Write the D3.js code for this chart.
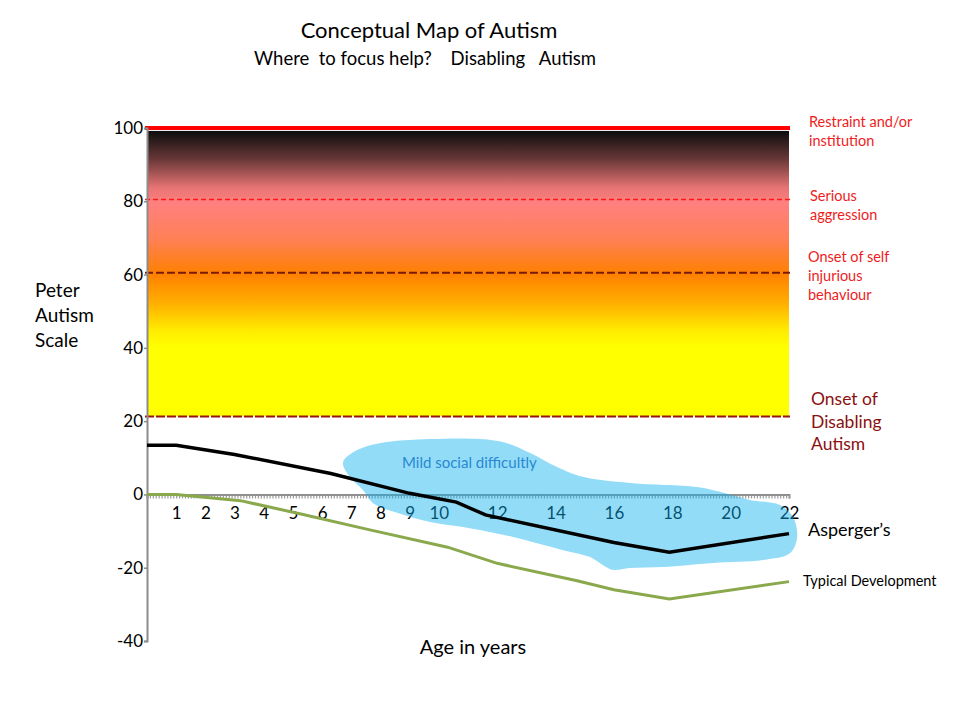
<!DOCTYPE html>
<html>
<head>
<meta charset="utf-8">
<script src="https://cdn.jsdelivr.net/npm/d3@7"></script>
<style>
body { margin: 0; background: #fff; }
text { font-family: Lato, "Noto Sans", sans-serif; }
</style>
</head>
<body>
<div id="chart"></div>
<script>
// asperger's curve (age, score)
var aspergerAges = [0, 1, 3, 6.3, 9, 10.6, 11.6, 16, 17.9, 22];
var aspergerScores = [13.4, 13.4, 10.9, 5.7, 0.3, -2.1, -5.6, -13.1, -15.8, -10.7];

// typical development curve
var typicalAges = [0, 1, 3.2, 5.2, 7.6, 10.3, 12, 14.7, 16, 17.9, 22];
var typicalScores = [0, 0, -1.7, -5.2, -9.6, -14.4, -18.8, -23.5, -26, -28.5, -23.8];

// outline of the "mild social difficulty" cloud
var blobAges = [6.72, 7.2, 7.98, 9.7, 11.41, 12.34, 13.13, 14.05, 14.94, 16.55, 18.85, 19.63, 20.66, 21.69, 22.14, 22.28, 22.04, 21.11, 19.4, 17.68, 16.55, 15.97, 15.63, 15.18, 14.26, 12.54, 10.83, 9.7, 8.57, 7.75, 7.4, 6.96];
var blobScores = [8.8, 12.1, 14.0, 15.1, 15.1, 14.0, 11.3, 7.5, 4.8, 3.1, 2.0, 0.7, -1.5, -2.9, -6.2, -11.6, -16.0, -17.9, -18.7, -19.8, -20.1, -20.6, -19.3, -17.1, -15.2, -11.6, -8.9, -7.5, -5.0, -2.4, 1.2, 4.7];

// tick labels
var yTicks = [-40, -20, 0, 20, 40, 60, 80, 100];
var xTicks = [1, 2, 3, 4, 5, 6, 7, 8, 9, 10, 12, 14, 16, 18, 20, 22];

// severity thresholds and their labels
var levelScores = [100, 80.5, 60.5, 21.3];
var levelLabels = [
    ["Restraint and/or", "institution"],
    ["Serious", "aggression"],
    ["Onset of self", "injurious", "behaviour"],
    ["Onset of", "Disabling", "Autism"]
];

var svgWidth = 960;
var svgHeight = 720;

var svg = d3.select("#chart")
    .append("svg")
    .attr("width", svgWidth)
    .attr("height", svgHeight);

var x = d3.scaleLinear().domain([0, 22]).range([147, 789]);
var y = d3.scaleLinear().domain([-40, 100]).range([641, 128]);

//gradient for the severity band
var defs = svg.append("defs");
var grad = defs.append("linearGradient")
    .attr("id", "band")
    .attr("x1", 0).attr("y1", 0)
    .attr("x2", 0).attr("y2", 1);
var stops = [
    [0, "#0d0d0d"], [0.1, "#6a3838"], [0.2, "#e87474"], [0.25, "#ff8080"],
    [0.38, "#ff8055"], [0.5, "#ff8000"], [0.6, "#ffad00"], [0.7, "#ffec00"],
    [0.76, "#ffff00"], [1, "#ffff00"]
];
grad.selectAll("stop").data(stops).enter().append("stop")
    .attr("offset", d => d[0])
    .attr("stop-color", d => d[1]);

svg.append("rect")
    .attr("x", x(0))
    .attr("y", y(99.2))
    .attr("width", x(22) - x(0))
    .attr("height", y(21.3) - y(99.2))
    .attr("fill", "url(#band)");

//threshold lines
var lineStyles = [
    {stroke: "#ff0000", width: 4, dash: null},
    {stroke: "#ff1a1a", width: 1.5, dash: "5,3"},
    {stroke: "#7a1a0a", width: 2, dash: "8,3"},
    {stroke: "#9a1414", width: 2, dash: "9,2"}
];
svg.selectAll(".level")
    .data(levelScores)
    .enter()
    .append("line")
    .attr("x1", x(0) - 2)
    .attr("x2", x(22) + 1)
    .attr("y1", d => y(d))
    .attr("y2", d => y(d))
    .attr("stroke", (d, i) => lineStyles[i].stroke)
    .attr("stroke-width", (d, i) => lineStyles[i].width)
    .attr("stroke-dasharray", (d, i) => lineStyles[i].dash);

//right-hand labels
var labelColors = ["#ee1c1c", "#ee1c1c", "#ee1c1c", "#8b1010"];
var labelTops = [127, 201, 262, 405];
var labelSizes = [14.5, 14.5, 14.5, 17.5];
var labelGap = [19, 19, 19, 22.5];
var labelX = [809, 810, 808, 811];
levelLabels.forEach(function(lines, i) {
    var t = svg.append("text")
        .attr("x", labelX[i])
        .attr("y", labelTops[i])
        .attr("fill", labelColors[i])
        .style("font-size", labelSizes[i] + "px");
    lines.forEach(function(s, j) {
        t.append("tspan").attr("x", labelX[i]).attr("dy", j === 0 ? 0 : labelGap[i]).text(s);
    });
});

//y axis
var yAxis = svg.append("g")
    .attr("transform", `translate(${x(0)},0)`)
    .call(d3.axisLeft(y).tickValues(yTicks).tickSize(3).tickPadding(1).tickFormat(d => String(d)));
yAxis.select(".domain").attr("stroke", "#8c8c8c").attr("stroke-width", 2);
yAxis.selectAll(".tick line").attr("stroke", "#8c8c8c").attr("stroke-width", 1.5);
yAxis.selectAll("text").style("font-size", "17px").attr("fill", "#000").style("font-family", "Lato, sans-serif");

//x axis with dense minor ticks
var minor = d3.range(0, 220.5, 1).map(d => d / 10);
var xMinor = svg.append("g")
    .attr("transform", `translate(0,${y(0)})`)
    .call(d3.axisBottom(x).tickValues(minor).tickSize(4).tickFormat(""));
xMinor.select(".domain").attr("stroke", "#8c8c8c").attr("stroke-width", 2);
xMinor.selectAll(".tick line").attr("stroke", "#9a9a9a").attr("stroke-width", 1.2);

var xAxis = svg.append("g")
    .attr("transform", `translate(0,${y(0)})`)
    .call(d3.axisBottom(x).tickValues(xTicks).tickSize(0).tickPadding(13));
xAxis.select(".domain").remove();
xAxis.selectAll("text").style("font-size", "17px").attr("fill", "#000").style("font-family", "Lato, sans-serif");

//cloud of mild social difficulty
var blob = d3.line()
    .x(d => x(d[0]))
    .y(d => y(d[1]))
    .curve(d3.curveCatmullRomClosed.alpha(0.5));
svg.append("path")
    .datum(blobAges.map((a, i) => [a, blobScores[i]]))
    .attr("d", blob)
    .attr("fill", "rgb(13,178,240)")
    .attr("fill-opacity", 0.45);

svg.append("text")
    .attr("x", 402)
    .attr("y", 468)
    .attr("fill", "#2a88d2")
    .style("font-size", "15px")
    .text("Mild social difficultly");

//development lines
var line = d3.line()
    .x(d => x(d[0]))
    .y(d => y(d[1]));

svg.append("path")
    .datum(typicalAges.map((a, i) => [a, typicalScores[i]]))
    .attr("d", line)
    .attr("fill", "none")
    .attr("stroke", "#8aa84c")
    .attr("stroke-width", 3);

svg.append("path")
    .datum(aspergerAges.map((a, i) => [a, aspergerScores[i]]))
    .attr("d", line)
    .attr("fill", "none")
    .attr("stroke", "#000")
    .attr("stroke-width", 3.5);

//series labels
svg.append("text")
    .attr("x", 808).attr("y", 536)
    .style("font-size", "18px")
    .text("Asperger\u2019s");

svg.append("text")
    .attr("x", 803).attr("y", 586)
    .style("font-size", "14.5px")
    .text("Typical Development");

//titles
svg.append("text")
    .attr("x", 429).attr("y", 38)
    .attr("text-anchor", "middle")
    .style("font-size", "22px")
    .text("Conceptual Map of Autism");

svg.append("text")
    .attr("x", 254).attr("y", 65)
    .attr("xml:space", "preserve")
    .style("white-space", "pre")
    .style("font-size", "18.5px")
    .text("Where  to focus help?    Disabling   Autism");

var yTitle = svg.append("text")
    .attr("x", 35).attr("y", 297)
    .style("font-size", "19px");
["Peter", "Autism", "Scale"].forEach(function(s, i) {
    yTitle.append("tspan").attr("x", 35).attr("dy", i === 0 ? 0 : 25).text(s);
});

svg.append("text")
    .attr("x", 473).attr("y", 654)
    .attr("text-anchor", "middle")
    .style("font-size", "20px")
    .text("Age in years");
</script>
</body>
</html>
